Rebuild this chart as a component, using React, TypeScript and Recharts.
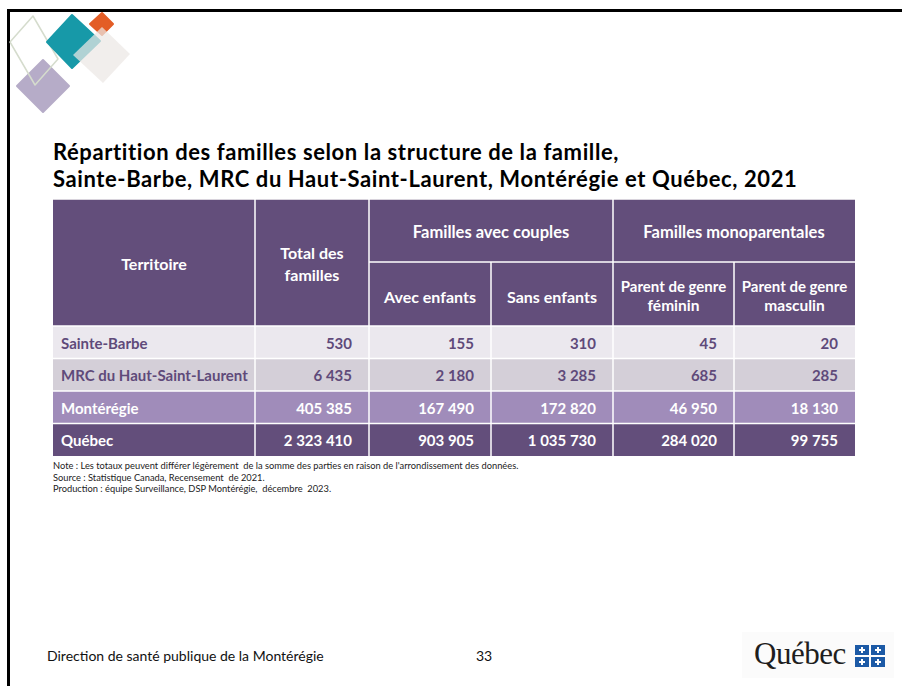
import React from 'react';
import { BarChart, Bar, XAxis, YAxis } from 'recharts';

// ---- data ----
const territoires = ['Sainte-Barbe', 'MRC du Haut-Saint-Laurent', 'Montérégie', 'Québec'];
const totalFamilles = [530, 6435, 405385, 2323410];
const avecEnfants = [155, 2180, 167490, 903905];
const sansEnfants = [310, 3285, 172820, 1035730];
const parentFeminin = [45, 685, 46950, 284020];
const parentMasculin = [20, 285, 18130, 99755];

const title1 = 'Répartition des familles selon la structure de la famille,';
const title2 = 'Sainte-Barbe, MRC du Haut-Saint-Laurent, Montérégie et Québec, 2021';
const notes = [
  "Note : Les totaux peuvent différer légèrement  de la somme des parties en raison de l'arrondissement des données.",
  'Source : Statistique Canada, Recensement  de 2021.',
  'Production : équipe Surveillance, DSP Montérégie,  décembre  2023.',
];

const data = territoires.map((name, i) => ({
  name,
  total: totalFamilles[i],
  avec: avecEnfants[i],
  sans: sansEnfants[i],
  fem: parentFeminin[i],
  masc: parentMasculin[i],
}));

// ---- layout ----
const FONT = 'Lato, "Open Sans", sans-serif';
const HEADER_BG = '#634e7b';
const ROW_BG = ['#ebe8ee', '#d4cfd8', '#a08cba', '#634e7b'];
const ROW_TEXT = ['#5f4a7a', '#5f4a7a', '#ffffff', '#ffffff'];
const COL_W = [202, 114, 122, 122, 121, 121];
const COL_KEYS = ['name', 'total', 'avec', 'sans', 'fem', 'masc'];
const TABLE_W = 802;
const HEADER_H = 127;
const TABLE_H = 257;

const colX = COL_W.reduce<number[]>((acc, w, i) => {
  acc.push(i === 0 ? 0 : acc[i - 1] + COL_W[i - 1]);
  return acc;
}, []);

const fmt = (v: number) => String(v).replace(/\B(?=(\d{3})+(?!\d))/g, ' ');

const RowShape = (props: any) => {
  const { y, height, index, payload } = props;
  const bg = props.background || {};
  const x0 = bg.x ?? props.x ?? 0;
  const cy = y + height / 2;
  return (
    <g>
      {COL_KEYS.map((k, c) => (
        <rect key={'r' + k} x={x0 + colX[c]} y={y} width={COL_W[c]} height={height} fill={ROW_BG[index]} />
      ))}
      {COL_KEYS.map((k, c) => (
        c === 0 ? (
          <text key={k} x={x0 + 8} y={cy} dominantBaseline="central" fontFamily={FONT} fontWeight={700} fontSize={15} fill={ROW_TEXT[index]}>
            {payload.name}
          </text>
        ) : (
          <text key={k} x={x0 + colX[c] + COL_W[c] - 17} y={cy} textAnchor="end" dominantBaseline="central" fontFamily={FONT} fontWeight={700} fontSize={15} fill={ROW_TEXT[index]}>
            {fmt(payload[k])}
          </text>
        )
      ))}
      <line x1={x0} x2={x0 + TABLE_W} y1={y} y2={y} stroke="#ffffff" strokeWidth={1.5} />
      {colX.slice(1).map((cx) => (
        <line key={'v' + cx} x1={x0 + cx} x2={x0 + cx} y1={y} y2={y + height} stroke="#ffffff" strokeWidth={1.5} />
      ))}
    </g>
  );
};

const Header = () => {
  const t = (x: number, y: number, s: string, size = 16) => (
    <text x={x} y={y} textAnchor="middle" dominantBaseline="central" fontFamily={FONT} fontWeight={700} fontSize={size} fill="#ffffff">
      {s}
    </text>
  );
  const mid = (c: number, span = 1) => colX[c] + (colX[c + span - 1] + COL_W[c + span - 1] - colX[c]) / 2;
  return (
    <svg width={TABLE_W} height={HEADER_H} style={{ position: 'absolute', left: 53, top: 199 }}>
      <rect x={0} y={0} width={TABLE_W} height={HEADER_H} fill={HEADER_BG} />
      <line x1={0} x2={TABLE_W} y1={0.5} y2={0.5} stroke="#d8d3dc" strokeWidth={1} />
      <line x1={colX[2]} x2={TABLE_W} y1={63} y2={63} stroke="#ffffff" strokeWidth={1.5} />
      {[colX[1], colX[2], colX[4]].map((x) => (
        <line key={'f' + x} x1={x} x2={x} y1={0} y2={HEADER_H} stroke="#ffffff" strokeWidth={1.5} />
      ))}
      {[colX[3], colX[5]].map((x) => (
        <line key={'h' + x} x1={x} x2={x} y1={63} y2={HEADER_H} stroke="#ffffff" strokeWidth={1.5} />
      ))}
      {t(mid(0), 64, 'Territoire')}
      {t(mid(1), 53, 'Total des')}
      {t(mid(1), 75, 'familles')}
      {t(mid(2, 2), 33, 'Familles avec couples', 16.5)}
      {t(mid(4, 2), 33, 'Familles monoparentales', 16.5)}
      {t(mid(2), 97, 'Avec enfants')}
      {t(mid(3), 97, 'Sans enfants')}
      {t(mid(4), 87, 'Parent de genre', 15)}
      {t(mid(4), 106, 'féminin', 15.5)}
      {t(mid(5), 87, 'Parent de genre', 15)}
      {t(mid(5), 106, 'masculin', 15.5)}
    </svg>
  );
};

const Decor = () => (
  <svg width={140} height={120} style={{ position: 'absolute', left: 0, top: 0 }}>
    <polygon points="43,60 69,86 43,112 17,86" fill="#b6acc8" stroke="#b6acc8" strokeWidth={2} strokeLinejoin="round" />
    <polygon points="33,16 58,59 35,85 10,42" fill="none" stroke="#d5dccd" strokeWidth={1.5} strokeLinejoin="round" />
    <polygon points="72,15 100,41 72,68 47,42" fill="#1799a8" stroke="#1799a8" strokeWidth={2} strokeLinejoin="round" />
    <polygon points="102,13 113,24 102,35 90,24" fill="#e35d26" stroke="#e35d26" strokeWidth={2} strokeLinejoin="round" />
    <polygon points="102,27 130,54 103,83 73,55" fill="#ebe7e5" fillOpacity={0.72} stroke="none" />
  </svg>
);

const QuebecLogo = () => (
  <div style={{ position: 'absolute', left: 742, top: 632, width: 152, height: 46, background: '#fbfbfb' }}>
    <span style={{ position: 'absolute', left: 12, top: 4, fontFamily: '"Liberation Serif", serif', fontSize: 31, color: '#1e1e1e', letterSpacing: -0.5 }}>
      Québec
    </span>
    <svg width={30} height={22} style={{ position: 'absolute', left: 113, top: 13 }}>
      <rect x={0} y={0} width={30} height={22} fill="#1c5aa6" />
      <rect x={14} y={0} width={2} height={22} fill="#ffffff" />
      <rect x={0} y={10} width={30} height={2} fill="#ffffff" />
      {[[7, 5], [23, 5], [7, 17], [23, 17]].map(([cx, cy]) => (
        <g key={cx + '-' + cy}>
          <rect x={cx - 1} y={cy - 3} width={2} height={6} fill="#ffffff" />
          <rect x={cx - 3} y={cy - 1} width={6} height={2} fill="#ffffff" />
        </g>
      ))}
    </svg>
  </div>
);

export default function App() {
  return (
    <div style={{ position: 'absolute', left: 0, top: 0, width: 902, height: 686, background: '#ffffff', overflow: 'hidden', fontFamily: FONT }}>
      <div style={{ position: 'absolute', left: 7, top: 9, width: 920, height: 720, borderLeft: '3px solid #000', borderTop: '3px solid #000' }} />
      <Decor />
      <div style={{ position: 'absolute', left: 53, top: 139, fontFamily: FONT, fontWeight: 700, fontSize: 22, lineHeight: '26.5px', letterSpacing: 0.6, color: '#000', whiteSpace: 'nowrap' }}>
        <div>{title1}</div>
        <div>{title2}</div>
      </div>
      <Header />
      <div style={{ position: 'absolute', left: 53, top: 199 }}>
        <BarChart
          width={TABLE_W}
          height={TABLE_H}
          data={data}
          layout="vertical"
          margin={{ top: HEADER_H, right: 0, bottom: 0, left: 0 }}
          barCategoryGap={0}
        >
          <XAxis type="number" hide />
          <YAxis type="category" dataKey="name" hide width={0} />
          <Bar dataKey="total" shape={RowShape} isAnimationActive={false} />
        </BarChart>
      </div>
      <div style={{ position: 'absolute', left: 53, top: 460, fontFamily: FONT, fontSize: 9.3, lineHeight: '11.5px', color: '#222', whiteSpace: 'pre' }}>
        {notes.map((n) => (
          <div key={n}>{n}</div>
        ))}
      </div>
      <div style={{ position: 'absolute', left: 47, top: 647, fontFamily: FONT, fontSize: 14, color: '#111', whiteSpace: 'nowrap' }}>
        Direction de santé publique de la Montérégie
      </div>
      <div style={{ position: 'absolute', left: 476, top: 647, fontFamily: FONT, fontSize: 14, color: '#111' }}>33</div>
      <QuebecLogo />
    </div>
  );
}
